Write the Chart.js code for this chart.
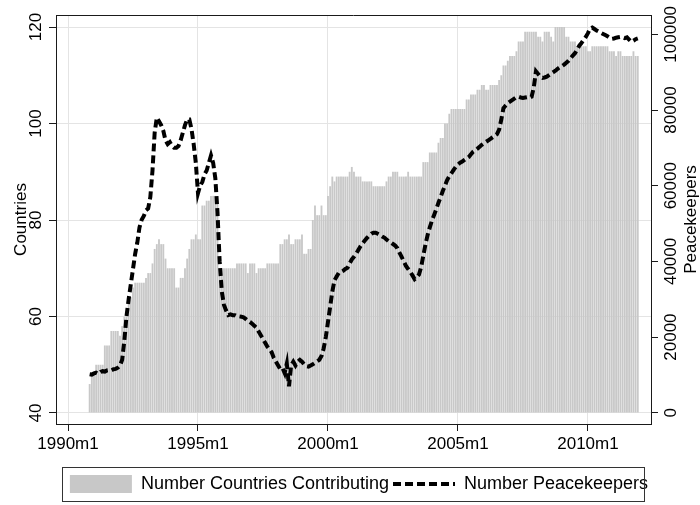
<!DOCTYPE html>
<html><head><meta charset="utf-8">
<script src="https://cdn.jsdelivr.net/npm/chart.js@4"></script>
<style>html,body{margin:0;padding:0;background:#fff}canvas{display:block}</style>
</head><body>
<canvas id="c" width="700" height="505"></canvas>
<script>
// months counted from 1990m1 = 0; first observation is 1990m11
const FIRST_MONTH = 10;

// Number of countries contributing, monthly 1990m11 .. 2011m12
const countries = [
  46, 48,
  48, 50, 50, 50, 50, 54, 54, 54, 57, 57, 57, 57,
  56, 58, 60, 61, 63, 64, 66, 67, 67, 67, 67, 67,
  68, 69, 69, 71, 74, 75, 76, 75, 75, 72, 70, 70,
  70, 70, 66, 66, 68, 68, 70, 72, 74, 76, 76, 77,
  76, 76, 83, 83, 84, 84, 85, 85, 85, 84, 70, 70,
  70, 70, 70, 70, 70, 70, 71, 71, 71, 71, 71, 69,
  71, 71, 71, 69, 70, 70, 70, 70, 71, 71, 71, 71,
  71, 71, 75, 75, 76, 76, 77, 75, 75, 76, 76, 76,
  77, 73, 73, 74, 74, 80, 83, 81, 81, 83, 81, 81,
  85, 87, 89, 88, 89, 89, 89, 89, 89, 89, 90, 91,
  90, 89, 89, 89, 88, 88, 88, 88, 88, 87, 87, 87,
  87, 87, 87, 88, 89, 89, 90, 90, 90, 89, 89, 89,
  89, 90, 89, 89, 89, 89, 89, 89, 92, 92, 92, 94,
  94, 94, 94, 96, 97, 97, 100, 100, 102, 103, 103, 103,
  103, 103, 103, 103, 105, 105, 106, 106, 106, 107, 107, 108,
  108, 107, 107, 108, 108, 108, 108, 109, 110, 112, 112, 113,
  114, 114, 114, 115, 117, 117, 117, 119, 119, 119, 119, 119,
  119, 118, 118, 117, 119, 119, 119, 118, 117, 120, 120, 120,
  120, 120, 118, 118, 117, 117, 117, 116, 116, 116, 116, 116,
  115, 115, 116, 116, 116, 116, 116, 116, 116, 116, 115, 115,
  115, 114, 115, 115, 114, 114, 114, 114, 114, 115, 114, 114
];

// Number of peacekeepers, monthly 1990m11 .. 2011m12
const peacekeepers = [
  10200, 10100,
  10400, 10600, 10300, 10800, 11000, 10900, 11200, 11300, 11200, 11500, 11600, 11900,
  12500, 14000, 19000, 25500, 30000, 34000, 38000, 42000, 45000, 49000, 51000, 52000,
  53500, 54000, 57000, 64000, 74000, 78000, 77000, 76000, 74500, 72000, 71000, 71500,
  70500, 70000, 70000, 70500, 72000, 74000, 76000, 77500, 77500, 75000, 71000, 66000,
  58000, 60000, 61000, 63000, 64000, 66000, 68000, 66000, 62000, 53000, 40000, 32000,
  28500, 27000, 25800, 26000, 25800, 25800, 25500, 25500, 25400, 25200, 24800, 24300,
  24000, 23500, 23000, 22500, 21500, 20500, 19500, 18500, 17500, 16800, 16000, 14500,
  13500, 12500, 11500, 11800, 10500, 13000, 7000, 12500, 13500, 12500, 13500, 14000,
  13500, 12800, 12300, 12200, 12500, 12800, 13200, 13600, 14000, 15000, 17000, 20000,
  24000, 28000, 32000, 35000, 36000, 37000, 37200, 37500, 38000, 38300, 39500, 40500,
  41200, 42000, 43000, 44000, 44800, 45500, 46200, 46800, 47300, 47600, 47600, 47300,
  47000, 46600, 46300, 45800, 45300, 45000, 44600, 44200, 43500, 42300, 41200, 40000,
  38800, 38000, 37200, 36300, 35300, 35800, 36500, 38500, 41500, 44500, 47000, 49000,
  50800, 52300, 53800, 55500, 57000, 58600, 60000, 61500, 62500, 63300, 64200, 65000,
  65600, 66100, 66400, 66800, 67200, 67600, 68300, 69000, 69400, 69800, 70300, 70800,
  71200, 71600, 72000, 72400, 72800, 73200, 73600, 74800, 77500, 80500, 81200, 81800,
  82200, 82600, 83000, 83400, 83500, 83300, 83200, 83300, 83400, 83200, 83500, 86000,
  90200, 89500, 88800, 88500, 88600, 88800, 89200, 89600, 90000, 90400, 90900, 91300,
  91600, 92000, 92500, 93000, 93700, 94400, 95000, 96000, 97000, 97700, 98500, 99300,
  100300, 101500, 101800, 101400, 101000, 100700, 100400, 100100, 99800, 99500, 99100, 98800,
  98900, 99100, 99200, 99300, 99200, 99000, 99200, 98600, 98000, 98300, 98700, 98900
];

const xTickMonths = [0, 60, 120, 180, 240];
const xTickLabels = ['1990m1', '1995m1', '2000m1', '2005m1', '2010m1'];
const yLeftTicks = [40, 60, 80, 100, 120];
const yLeftLabels = ['40', '60', '80', '100', '120'];
const yRightTicks = [0, 20000, 40000, 60000, 80000, 100000];
const yRightLabels = ['0', '20000', '40000', '60000', '80000', '100000'];
const seriesNames = ['Number Countries Contributing', 'Number Peacekeepers'];
const axisTitles = ['Countries', 'Peacekeepers'];

const months = countries.map((_, i) => FIRST_MONTH + i);

const FONT = '"Liberation Sans", Arial, Helvetica, sans-serif';
const barColor = '#c8c8c8';
const axisColor = '#1a1a1a';
const gridColor = '#e4e4e4';

const framePlugin = {
  id: 'frame',
  afterDraw(chart) {
    const {ctx, chartArea: a} = chart;
    ctx.save();
    ctx.strokeStyle = axisColor;
    ctx.lineWidth = 1;
    ctx.beginPath();
    ctx.moveTo(a.left, a.top + 0.5);
    ctx.lineTo(a.right, a.top + 0.5);
    ctx.stroke();
    // right axis title, reading upward
    const s2 = chart.scales.y2;
    ctx.fillStyle = '#000';
    ctx.font = '17px ' + FONT;
    ctx.textAlign = 'center';
    ctx.textBaseline = 'middle';
    ctx.translate(s2.right - 9, (a.top + a.bottom) / 2);
    ctx.rotate(-Math.PI / 2);
    ctx.fillText(axisTitles[1], 0, 0);
    ctx.restore();
    // legend frame
    const hb = chart.legend.legendHitBoxes;
    if (hb && hb.length) {
      const x0 = hb[0].left - 8;
      const last = hb[hb.length - 1];
      const x1 = last.left + last.width - 4;
      const cy = hb[0].top + hb[0].height / 2;
      ctx.save();
      ctx.strokeStyle = '#333';
      ctx.lineWidth = 1;
      ctx.strokeRect(Math.round(x0) + 0.5, Math.round(cy - 17) + 0.5, Math.round(x1 - x0), 34);
      ctx.restore();
    }
  }
};

const tickFont = {size: 17, family: FONT};

new Chart(document.getElementById('c'), {
  type: 'bar',
  data: {
    datasets: [
      {
        type: 'line',
        label: seriesNames[1],
        data: months.map((m, i) => ({x: m, y: peacekeepers[i]})),
        yAxisID: 'y2',
        borderColor: '#000',
        borderWidth: 4,
        borderDash: [8, 4],
        borderCapStyle: 'butt',
        pointRadius: 0,
        tension: 0,
        fill: false,
        order: 0
      },
      {
        type: 'bar',
        label: seriesNames[0],
        data: months.map((m, i) => ({x: m, y: countries[i]})),
        yAxisID: 'y',
        backgroundColor: barColor,
        borderWidth: 0,
        base: 40,
        barPercentage: 0.85,
        categoryPercentage: 1,
        order: 1
      }
    ]
  },
  options: {
    responsive: false,
    animation: false,
    devicePixelRatio: 1,
    layout: {padding: {left: 18, top: 15, right: 0, bottom: 2}},
    plugins: {
      tooltip: {enabled: false},
      legend: {
        position: 'bottom',
        labels: {
          usePointStyle: true,
          pointStyleWidth: 62,
          boxHeight: 18,
          padding: 4,
          font: {size: 18, family: FONT},
          color: '#000',
          generateLabels: () => [
            {text: seriesNames[0], fillStyle: barColor, strokeStyle: barColor, lineWidth: 0,
             pointStyle: 'rect', datasetIndex: 1, hidden: false, fontColor: '#000'},
            {text: seriesNames[1], fillStyle: 'rgba(0,0,0,0)', strokeStyle: '#000', lineWidth: 4,
             lineDash: [8, 4], lineCap: 'butt', pointStyle: 'line', datasetIndex: 0, hidden: false, fontColor: '#000'}
          ]
        }
      }
    },
    scales: {
      x: {
        type: 'linear',
        position: 'bottom',
        min: -5.54,
        max: 269.1,
        bounds: 'data',
        offset: false,
        grid: {offset: false, color: gridColor, tickColor: axisColor, tickLength: 7, lineWidth: 1},
        border: {display: true, color: axisColor, width: 1},
        afterBuildTicks: s => { s.ticks = xTickMonths.map(v => ({value: v})); },
        ticks: {
          autoSkip: false, minRotation: 0, maxRotation: 0, padding: 3,
          font: tickFont, color: '#000',
          callback: v => xTickLabels[xTickMonths.indexOf(v)]
        },
        afterFit: s => { s.height = 47; }
      },
      y: {
        type: 'linear',
        position: 'left',
        min: 37.72,
        max: 122.49,
        bounds: 'data',
        beginAtZero: false,
        grid: {color: gridColor, tickColor: axisColor, tickLength: 7, lineWidth: 1},
        border: {display: true, color: axisColor, width: 1},
        afterBuildTicks: s => { s.ticks = yLeftTicks.map(v => ({value: v})); },
        ticks: {
          autoSkip: false, minRotation: 90, maxRotation: 90, crossAlign: 'center', padding: -1,
          font: tickFont, color: '#000',
          callback: v => yLeftLabels[yLeftTicks.indexOf(v)]
        },
        title: {display: true, text: axisTitles[0], font: tickFont, color: '#000', padding: {top: -7, bottom: 0}},
        afterFit: s => { s.width = 38; }
      },
      y2: {
        type: 'linear',
        position: 'right',
        min: -2960,
        max: 105100,
        bounds: 'data',
        beginAtZero: false,
        grid: {drawOnChartArea: false, color: gridColor, tickColor: axisColor, tickLength: 7},
        border: {display: true, color: axisColor, width: 1},
        afterBuildTicks: s => { s.ticks = yRightTicks.map(v => ({value: v})); },
        ticks: {
          autoSkip: false, minRotation: 90, maxRotation: 90, crossAlign: 'center', padding: -15,
          font: tickFont, color: '#000',
          callback: v => yRightLabels[yRightTicks.indexOf(v)]
        },
        afterFit: s => { s.width = 49; }
      }
    }
  },
  plugins: [framePlugin]
});
</script>
</body></html>
